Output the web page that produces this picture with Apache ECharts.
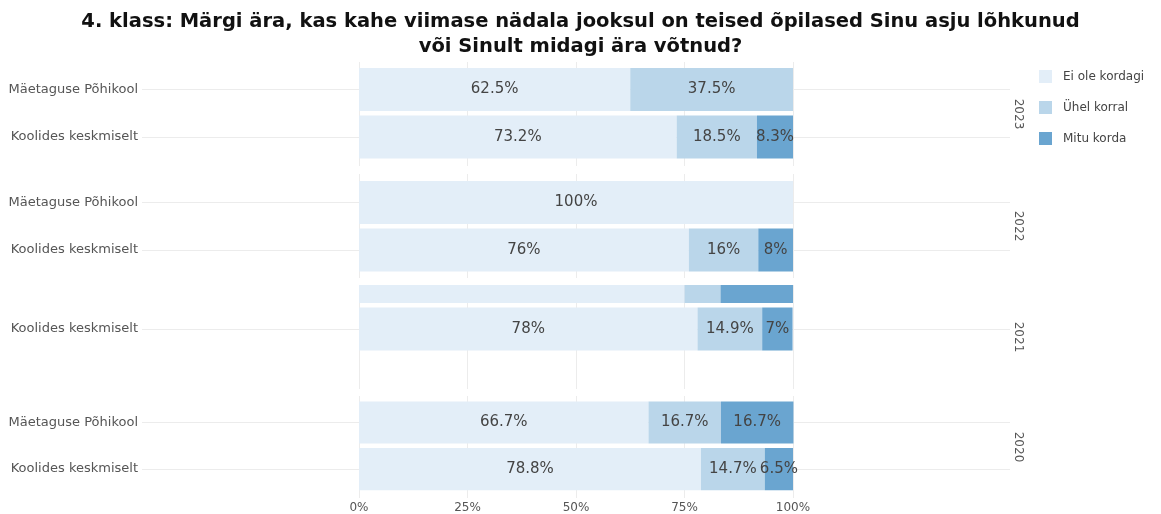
<!DOCTYPE html>
<html><head><meta charset="utf-8">
<script src="https://cdn.jsdelivr.net/npm/echarts@6/dist/echarts.min.js"></script>
<style>html,body{margin:0;padding:0;background:#fff}#c{width:1161px;height:514px}</style>
</head><body><div id="c"></div>
<script>
// ---- data ----
const chartTitle = '4. klass: Märgi ära, kas kahe viimase nädala jooksul on teised õpilased Sinu asju lõhkunud\nvõi Sinult midagi ära võtnud?';
const categories = ['Mäetaguse Põhikool', 'Koolides keskmiselt'];
const years = ['2023', '2022', '2021', '2020'];
const responses = ['Ei ole kordagi', 'Ühel korral', 'Mitu korda'];
// per year: [Mäetaguse Põhikool, Koolides keskmiselt]
const eiOleKordagi = [[62.5, 73.2], [100, 76], [75, 78], [66.7, 78.8]];
const uhelKorral   = [[37.5, 18.5], [0, 16], [8.3, 14.9], [16.7, 14.7]];
const mituKorda    = [[0, 8.3], [0, 8], [16.7, 7], [16.7, 6.5]];
const xTicks = [0, 25, 50, 75, 100];

// ---- layout / style ----
const seriesValues = [eiOleKordagi, uhelKorral, mituKorda];
const colors = ['#e3eef8', '#bad6ea', '#6aa5d0'];
const gridTops = [62, 174, 285, 396];
const gridHeight = 104;
const yRanges = [[-0.58, 1.61], [-0.6, 1.589], [0.074, 2.263], [-0.568, 1.621]];
const FONT = '"DejaVu Sans", Verdana, sans-serif';
const GRID_COLOR = '#ececec';
const BAR_FRAC = 0.905;

function fmt(v) { return (Math.round(v * 10) / 10) + '%'; }

function renderItem(params, api) {
  const start = api.value(0), end = api.value(1), cat = api.value(2), v = api.value(3);
  if (!(end > start)) return;
  const p0 = api.coord([start, cat]);
  const p1 = api.coord([end, cat]);
  const h = api.size([0, BAR_FRAC], [start, cat])[1];
  const cs = params.coordSys;
  const children = [{
    type: 'rect',
    shape: { x: p0[0], y: p0[1] - h / 2, width: p1[0] - p0[0], height: h },
    style: { fill: api.visual('color') }
  }];
  if (p0[1] >= cs.y && p0[1] <= cs.y + cs.height) {
    children.push({
      type: 'text', z2: 10,
      x: (p0[0] + p1[0]) / 2, y: p0[1],
      style: { text: fmt(v), fill: '#444', font: '15px ' + FONT, align: 'center', verticalAlign: 'middle' }
    });
  }
  return { type: 'group', children };
}

const grids = [], xAxes = [], yAxes = [], series = [];
years.forEach((yr, i) => {
  grids.push({ left: 142, right: 151, top: gridTops[i], height: gridHeight });
  xAxes.push({
    gridIndex: i, type: 'value', min: -50, max: 150,
    axisLine: { show: false },
    axisTick: { show: false, customValues: xTicks },
    axisLabel: {
      show: i === years.length - 1, customValues: xTicks, formatter: '{value}%',
      color: '#555', fontSize: 12, fontFamily: FONT, margin: 4
    },
    splitLine: { show: true, lineStyle: { color: GRID_COLOR, width: 1 } }
  });
  yAxes.push({
    gridIndex: i, type: 'value', inverse: true, min: yRanges[i][0], max: yRanges[i][1],
    axisLine: { show: false },
    axisTick: { show: false, customValues: [0, 1] },
    axisLabel: {
      customValues: [0, 1], formatter: v => categories[Math.round(v)],
      color: '#555', fontSize: 13, fontFamily: FONT, margin: 4
    },
    splitLine: { show: true, lineStyle: { color: GRID_COLOR, width: 1 } }
  });
  responses.forEach((resp, r) => {
    const data = categories.map((c, k) => {
      let start = 0;
      for (let q = 0; q < r; q++) start += seriesValues[q][i][k];
      const v = seriesValues[r][i][k];
      return [start, start + v, k, v];
    });
    series.push({
      type: 'custom', name: resp, coordinateSystem: 'cartesian2d',
      xAxisIndex: i, yAxisIndex: i, clip: true,
      itemStyle: { color: colors[r] },
      encode: { x: [0, 1], y: 2 },
      renderItem, data
    });
  });
});
years.forEach((yr, i) => {
  yAxes.push({
    gridIndex: i, type: 'value', position: 'right', min: 0, max: 1,
    name: yr, nameLocation: 'middle', nameRotate: -90, nameGap: 2,
    nameTextStyle: { color: '#555', fontSize: 12, fontFamily: FONT },
    axisLine: { show: false }, axisTick: { show: false },
    axisLabel: { show: false }, splitLine: { show: false }
  });
});

const chart = echarts.init(document.getElementById('c'), null, { renderer: 'canvas' });
chart.setOption({
  animation: false,
  backgroundColor: '#fff',
  title: {
    text: chartTitle, left: 'center', top: 4,
    textStyle: { fontFamily: FONT, fontWeight: 'bold', fontSize: 19.5, color: '#111', lineHeight: 25 }
  },
  legend: {
    orient: 'vertical', left: 1034, top: 65,
    itemWidth: 13, itemHeight: 13, itemGap: 18, icon: 'rect',
    data: responses,
    textStyle: { color: '#444', fontSize: 12, fontFamily: FONT, padding: [0, 0, 0, 6] }
  },
  grid: grids, xAxis: xAxes, yAxis: yAxes, series
});
</script></body></html>
